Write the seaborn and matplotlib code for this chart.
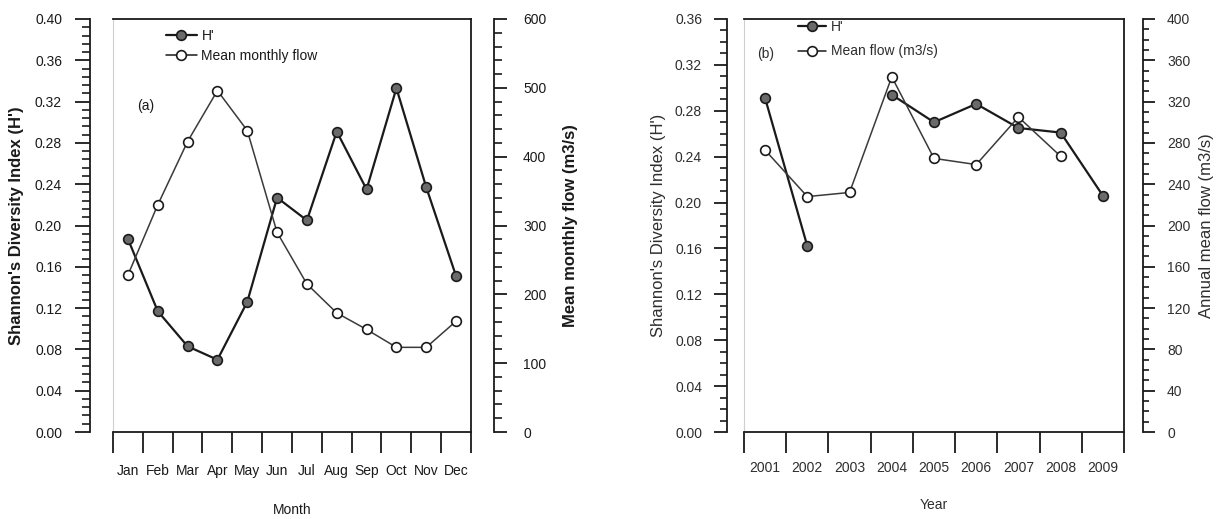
import numpy as np
import pandas as pd
import matplotlib
matplotlib.use("Agg")
import matplotlib.pyplot as plt
from matplotlib.lines import Line2D
from matplotlib.ticker import MultipleLocator, FixedLocator, FormatStrFormatter
import seaborn as sns

# Monthly panel (a)
months = ["Jan", "Feb", "Mar", "Apr", "May", "Jun", "Jul", "Aug", "Sep", "Oct", "Nov", "Dec"]
h_monthly = [0.187, 0.117, 0.083, 0.070, 0.126, 0.227, 0.205, 0.291, 0.235, 0.333, 0.237, 0.151]
flow_monthly = [228, 330, 422, 496, 438, 290, 215, 173, 149, 123, 123, 161]

# Annual panel (b)
years = ["2001", "2002", "2003", "2004", "2005", "2006", "2007", "2008", "2009"]
h_annual = [0.291, 0.162, np.nan, 0.294, 0.270, 0.286, 0.265, 0.261, 0.206]
flow_annual = [273, 228, 232, 344, 265, 259, 305, 267, np.nan]

sns.set_theme(style="ticks")
plt.rcParams["font.family"] = ["Liberation Sans Narrow", "Liberation Sans", "DejaVu Sans"]
plt.rcParams["axes.linewidth"] = 1.3

W, H = 1221, 519
fig = plt.figure(figsize=(W / 100, H / 100), dpi=100)


def add_axes_px(left, right, top, bottom):
    return fig.add_axes([left / W, 1 - bottom / H, (right - left) / W, (bottom - top) / H])


INK = "#1a1a1a"
PT = 72 / 100  # points per pixel


def segments(values):
    df = pd.DataFrame({"x": np.arange(len(values)), "v": values})
    df["seg"] = df["v"].isna().cumsum()
    return df.dropna()


def draw_panel(ax, cats, h, flow, hmax, hmaj, hmin, fmax, fmaj, fmin, cfg):
    n = len(cats)
    ax2 = ax.twinx()

    dh = segments(h)
    sns.lineplot(data=dh, x="x", y="v", units="seg", estimator=None, ax=ax,
                 color=INK, linewidth=1.6, marker="o", markersize=7,
                 markerfacecolor="#6a6a6a", markeredgecolor=INK,
                 markeredgewidth=1.2, legend=False, zorder=3)
    df = segments(flow)
    sns.lineplot(data=df, x="x", y="v", units="seg", estimator=None, ax=ax2,
                 color="#3a3a3a", linewidth=1.1, marker="o", markersize=7,
                 markerfacecolor="white", markeredgecolor=INK,
                 markeredgewidth=1.2, legend=False, zorder=2)

    ax.set_xlim(-0.5, n - 0.5)
    ax.set_ylim(0, hmax)
    ax2.set_ylim(0, fmax)

    # x axis: labels at category centres, long ticks at boundaries
    ax.set_xticks(np.arange(n))
    ax.set_xticklabels(cats)
    ax.xaxis.set_minor_locator(FixedLocator(np.arange(-0.5, n, 1.0)))
    ax.tick_params(axis="x", which="major", length=0, pad=cfg["xpad"],
                   labelsize=cfg["fs"], labelcolor=cfg["tc"])
    ax.tick_params(axis="x", which="minor", length=21 * PT, width=1.3,
                   direction="out", color=INK)

    # left axis
    ax.yaxis.set_major_locator(MultipleLocator(hmaj))
    ax.yaxis.set_minor_locator(MultipleLocator(hmin))
    ax.yaxis.set_major_formatter(FormatStrFormatter("%.2f"))
    ax.tick_params(axis="y", which="major", length=cfg["lmaj"] * PT, width=1.3,
                   direction="out", color=INK, pad=cfg["lpad"] * PT,
                   labelsize=cfg["fs"], labelcolor=cfg["tc"])
    ax.tick_params(axis="y", which="minor", length=cfg["lmin"] * PT, width=1.2,
                   direction="out", color=INK)
    ax.spines["left"].set_position(("outward", cfg["loff"] * PT))
    for s in ["left", "top", "right", "bottom"]:
        ax.spines[s].set_color(INK)
        ax.spines[s].set_linewidth(1.3)
    ax.plot([0, 0], [0, 1], transform=ax.transAxes, color="#cfcfcf",
            lw=0.8, clip_on=False)

    # right axis
    for s in ["left", "top", "bottom"]:
        ax2.spines[s].set_visible(False)
    ax2.spines["right"].set_position(("outward", cfg["roff"] * PT))
    ax2.spines["right"].set_color(INK)
    ax2.spines["right"].set_linewidth(1.3)
    ax2.yaxis.set_major_locator(MultipleLocator(fmaj))
    ax2.yaxis.set_minor_locator(MultipleLocator(fmin))
    ax2.tick_params(axis="y", which="major", length=cfg["rmaj"] * PT, width=1.3,
                    direction="out", color=INK, pad=cfg["rpad"] * PT,
                    labelsize=cfg["fs"], labelcolor=cfg["tc"])
    ax2.tick_params(axis="y", which="minor", length=cfg["rmin"] * PT, width=1.2,
                    direction="out", color=INK)

    # axis titles
    ax.set_xlabel(cfg["xlabel"], fontsize=cfg["fs"], color=cfg["tc"])
    ax.xaxis.label.set_va("center")
    ax.xaxis.set_label_coords(0.5, cfg["xly"])
    ax.set_ylabel(cfg["ylabel"], fontsize=cfg["yfs"], fontweight=cfg["yfw"],
                  color=cfg["tc"])
    ax.yaxis.label.set_va("center")
    ax.yaxis.set_label_coords(cfg["ylx"], 0.5)
    ax2.set_ylabel(cfg["y2label"], fontsize=cfg["yfs"], fontweight=cfg["yfw"],
                   color=cfg["tc"])
    ax2.yaxis.label.set_va("center")
    ax2.yaxis.set_label_coords(cfg["y2lx"], 0.5)

    # panel tag and legend
    ax.text(cfg["tag_xy"][0], cfg["tag_xy"][1], cfg["tag"], transform=ax.transAxes,
            fontsize=cfg["fs"], color=cfg["tc"], ha="left", va="center")
    handles = [
        Line2D([], [], color=INK, lw=1.6, marker="o", markersize=7,
               markerfacecolor="#6a6a6a", markeredgecolor=INK, markeredgewidth=1.2),
        Line2D([], [], color=INK, lw=1.1, marker="o", markersize=7,
               markerfacecolor="white", markeredgecolor=INK, markeredgewidth=1.2),
    ]
    leg = ax2.legend(handles, cfg["leg_labels"], loc="upper left",
                     bbox_to_anchor=cfg["leg_anchor"], frameon=False,
                     borderpad=0, borderaxespad=0, handlelength=cfg["hl"],
                     handletextpad=0.35, labelspacing=cfg["ls"],
                     fontsize=cfg["fs"])
    for t in leg.get_texts():
        t.set_color(cfg["tc"])
    return ax2


ax_a = add_axes_px(113, 471, 19, 432)
draw_panel(ax_a, months, h_monthly, flow_monthly, 0.40, 0.04, 0.008, 600, 100, 20, dict(
    fs=10, tc="#1a1a1a", xpad=23, lmaj=15, lmin=8, lpad=13, loff=23,
    rmaj=13, rmin=8, rpad=16, roff=23,
    xlabel="Month", xly=(432 - 510) / 413,
    ylabel="Shannon's Diversity Index (H')", y2label="Mean monthly flow (m3/s)",
    yfs=12, yfw="bold", ylx=(16 - 113) / 358, y2lx=(570 - 113) / 358,
    tag="(a)", tag_xy=((137 - 113) / 358, (432 - 106) / 413),
    leg_labels=["H'", "Mean monthly flow"],
    leg_anchor=((166 - 113) / 358, (432 - 29) / 413), hl=2.2, ls=0.4,
))

ax_b = add_axes_px(744, 1124, 19, 432)
draw_panel(ax_b, years, h_annual, flow_annual, 0.36, 0.04, 0.01, 400, 40, 10, dict(
    fs=10, tc="#2e2e2e", xpad=21, lmaj=13, lmin=7, lpad=12, loff=17,
    rmaj=12, rmin=6, rpad=12, roff=19,
    xlabel="Year", xly=(432 - 505) / 413,
    ylabel="Shannon's Diversity Index (H')", y2label="Annual mean flow (m3/s)",
    yfs=12, yfw="normal", ylx=(659 - 744) / 380, y2lx=(1207 - 744) / 380,
    tag="(b)", tag_xy=((757 - 744) / 380, (432 - 54) / 413),
    leg_labels=["H'", "Mean flow (m3/s)"],
    leg_anchor=((798 - 744) / 380, (432 - 20) / 413), hl=2.0, ls=0.75,
))

fig.savefig("out.png", dpi=100)
